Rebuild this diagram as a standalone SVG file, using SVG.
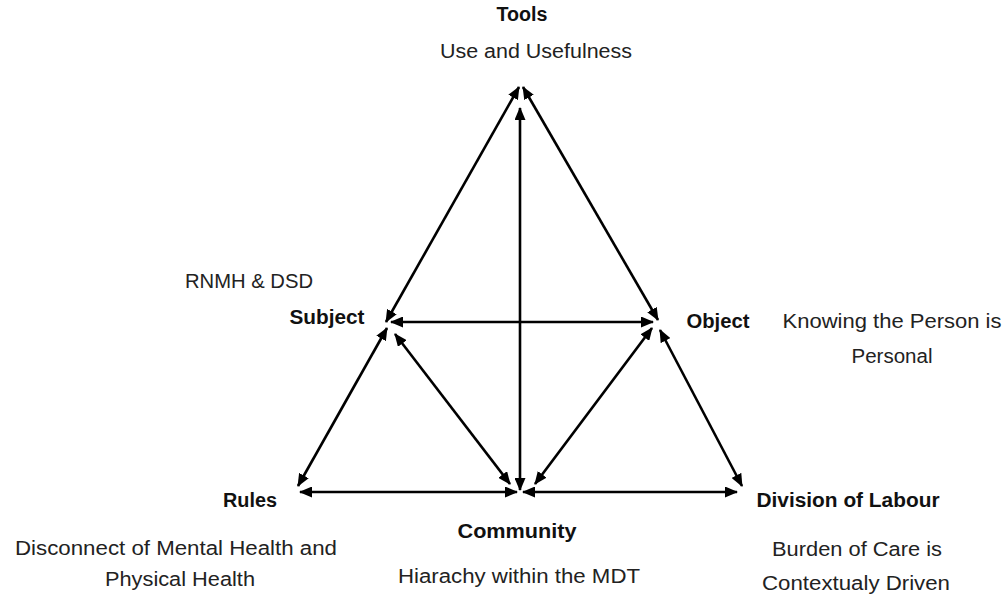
<svg xmlns="http://www.w3.org/2000/svg" width="1006" height="596" viewBox="0 0 1006 596">
<defs>
<marker id="ah" viewBox="0 0 13 11" refX="12" refY="5.5" markerWidth="13" markerHeight="11" markerUnits="userSpaceOnUse" orient="auto-start-reverse">
<path d="M0,0 L13,5.5 L0,11 Z" fill="#000"/>
</marker>
<style>
.ln{stroke:#000;stroke-width:2.6;fill:none;marker-start:url(#ah);marker-end:url(#ah)}
.b{font-family:"Liberation Sans",Arial,sans-serif;font-size:20px;font-weight:bold;fill:#111;text-anchor:middle}
.t{font-family:"Liberation Sans",Arial,sans-serif;font-size:20px;fill:#222;text-anchor:middle}
</style>
</defs>
<rect width="1006" height="596" fill="#fff"/>
<g id="connectors">
<line class="ln" x1="519" y1="87" x2="386" y2="322"/>
<line class="ln" x1="523" y1="87" x2="658" y2="320"/>
<line class="ln" x1="520" y1="108" x2="520" y2="490"/>
<line class="ln" x1="391" y1="322" x2="653" y2="322"/>
<line class="ln" x1="387" y1="328" x2="298" y2="486"/>
<line class="ln" x1="395" y1="334" x2="510" y2="484"/>
<line class="ln" x1="652" y1="328" x2="535" y2="484"/>
<line class="ln" x1="660" y1="330" x2="742" y2="486"/>
<line class="ln" x1="300" y1="492" x2="517" y2="492"/>
<line class="ln" x1="523" y1="492" x2="737" y2="492"/>
</g>
<g id="tools">
<text class="b" x="522" y="21" textLength="51" lengthAdjust="spacingAndGlyphs">Tools</text>
<text class="t" x="536" y="58" textLength="192" lengthAdjust="spacingAndGlyphs">Use and Usefulness</text>
</g>
<g id="subject">
<text class="t" x="249" y="288" textLength="128" lengthAdjust="spacingAndGlyphs">RNMH &amp; DSD</text>
<text class="b" x="327" y="324" textLength="75" lengthAdjust="spacingAndGlyphs">Subject</text>
</g>
<g id="object">
<text class="b" x="718" y="328" textLength="63" lengthAdjust="spacingAndGlyphs">Object</text>
<text class="t" x="892" y="328" textLength="219" lengthAdjust="spacingAndGlyphs">Knowing the Person is</text>
<text class="t" x="892" y="363" textLength="81" lengthAdjust="spacingAndGlyphs">Personal</text>
</g>
<g id="rules">
<text class="b" x="250" y="507" textLength="54" lengthAdjust="spacingAndGlyphs">Rules</text>
<text class="t" x="176" y="555" textLength="322" lengthAdjust="spacingAndGlyphs">Disconnect of Mental Health and</text>
<text class="t" x="180" y="586" textLength="150" lengthAdjust="spacingAndGlyphs">Physical Health</text>
</g>
<g id="community">
<text class="b" x="517" y="538" textLength="119" lengthAdjust="spacingAndGlyphs">Community</text>
<text class="t" x="519" y="583" textLength="242" lengthAdjust="spacingAndGlyphs">Hiarachy within the MDT</text>
</g>
<g id="division">
<text class="b" x="848" y="507" textLength="183" lengthAdjust="spacingAndGlyphs">Division of Labour</text>
<text class="t" x="857" y="556" textLength="170" lengthAdjust="spacingAndGlyphs">Burden of Care is</text>
<text class="t" x="856" y="590" textLength="188" lengthAdjust="spacingAndGlyphs">Contextualy Driven</text>
</g>
</svg>
